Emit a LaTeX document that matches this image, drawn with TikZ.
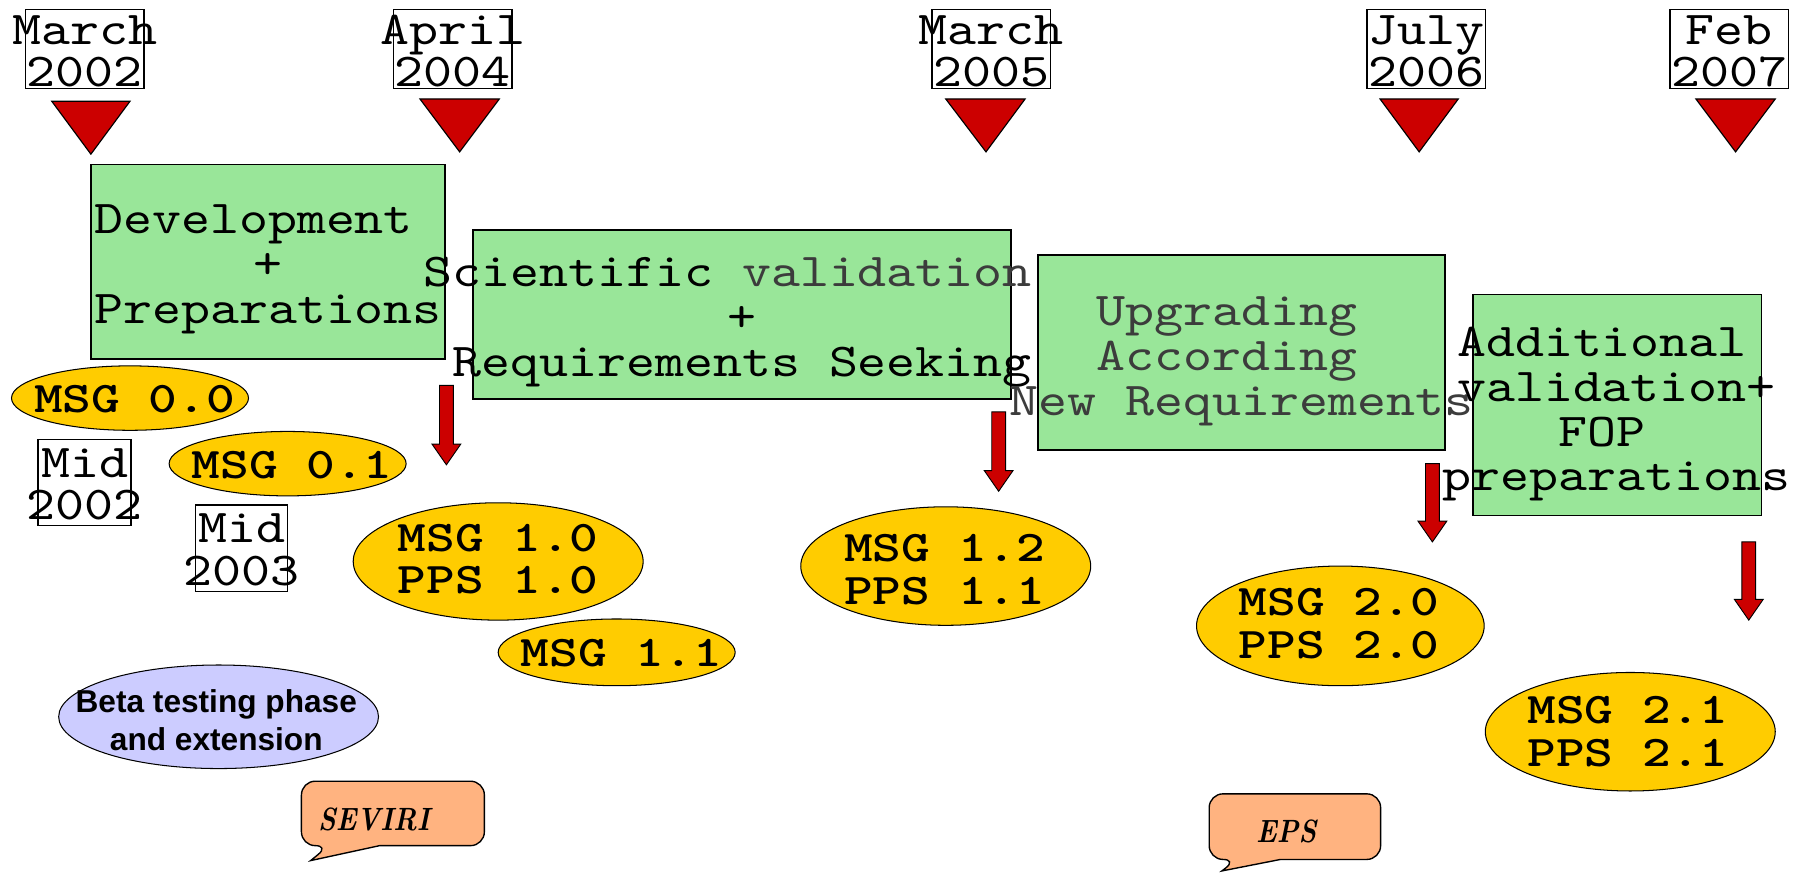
\documentclass[tikz,border=0pt]{standalone}
\usepackage{fontspec}
\usetikzlibrary{shapes.geometric}

% typefaces
\newfontfamily\datefont{lmmono10-regular.otf}[FakeStretch=1.17]
\newfontfamily\relfont{lmmonolt10-bold.otf}[FakeStretch=1.25]
\newfontfamily\betafont{Liberation Sans}
\newfontfamily\callfont{lmroman10-bolditalic.otf}[FakeStretch=0.85]

% palette
\definecolor{boxgreen}{HTML}{99E699}
\definecolor{msgorange}{HTML}{FFCC00}
\definecolor{markred}{HTML}{CC0000}
\definecolor{betablue}{HTML}{CCCCFF}
\definecolor{calloutfill}{HTML}{FFB380}
\definecolor{softgray}{HTML}{3C3C3C}

% downward block arrow: x, top, head start, tip
\newcommand\relarrow[4]{%
  \draw[relarrowstyle] (#1-6,#2) -- (#1+6,#2) -- (#1+6,#3) -- (#1+12.5,#3)
    -- (#1,#4) -- (#1-12.5,#3) -- (#1-6,#3) -- cycle;}

\tikzset{
  datebox/.style={draw, line width=1.2, minimum width=103, minimum height=69, inner sep=0},
  midbox/.style={draw, line width=1.2, minimum width=81, minimum height=75, inner sep=0},
  datetext/.style={font=\datefont\fontsize{41}{37}\selectfont, align=center, inner sep=0},
  marker/.style={draw, line width=1, fill=markred, line join=miter},
  stage/.style={draw, line width=1.6, fill=boxgreen, inner sep=0},
  stagetext/.style={font=\datefont\fontsize{41}{39}\selectfont, align=center, inner sep=0},
  release/.style={ellipse, draw, line width=0.9, fill=msgorange, inner sep=0},
  releasetext/.style={font=\relfont\fontsize{38}{37}\selectfont, align=center, inner sep=0},
  relarrowstyle/.style={draw, line width=0.8, fill=markred},
  betaell/.style={ellipse, draw, line width=0.9, fill=betablue, inner sep=0,
    minimum width=278, minimum height=90},
  betatext/.style={font=\betafont\bfseries\fontsize{27.5}{33}\selectfont, align=center, inner sep=0},
  calloutbox/.style={draw, line width=1.2, fill=calloutfill},
  callouttext/.style={font=\callfont\fontsize{28}{30}\selectfont, inner sep=0},
}

\begin{document}
\begin{tikzpicture}[x=1pt, y=-1pt]
\useasboundingbox (0,0) rectangle (1568,758);

% ---- milestone dates with markers ----
\node[datebox] (d1box) at (73.5,42.5) {};
\node[datetext] (d1) at (73.5,44.5) {March\\2002};
\draw[marker] (45,88) -- (113,88) -- (79,134) -- cycle;

\node[datebox] (d2box) at (393.5,42.5) {};
\node[datetext] (d2) at (393.5,44.5) {April\\2004};
\draw[marker] (365,86) -- (434,86) -- (399.5,132) -- cycle;

\node[datebox] (d3box) at (861.5,42.5) {};
\node[datetext] (d3) at (861.5,44.5) {March\\2005};
\draw[marker] (822,86) -- (891,86) -- (857,132) -- cycle;

\node[datebox] (d4box) at (1239.5,42.5) {};
\node[datetext] (d4) at (1239.5,44.5) {July\\2006};
\draw[marker] (1199.5,86) -- (1267.5,86) -- (1233.5,132) -- cycle;

\node[datebox] (d5box) at (1503,42.5) {};
\node[datetext] (d5) at (1503,44.5) {Feb\\2007};
\draw[marker] (1474,86) -- (1543,86) -- (1508.5,132) -- cycle;

% ---- project phases ----
\node[stage, minimum width=308, minimum height=169] (devbox) at (233,227.5) {};
\node[stage, minimum width=468, minimum height=147] (scibox) at (645,273.5) {};
\node[stage, minimum width=354, minimum height=169] (upgbox) at (1079,306.5) {};
\node[stage, minimum width=251, minimum height=192] (addbox) at (1405.5,352) {};

\node[stagetext] (dev) at (233,234) {Development\hphantom{x}\\+\\Preparations};
\node[stagetext] (sci) at (645,280) {Scientific \textcolor{softgray}{validation}\hphantom{x}\\+\\Requirements Seeking};
\node[stagetext, text=softgray] (upg) at (1079,314) {Upgrading\hphantom{x}\\According\hphantom{x}\\New Requirements};
\node[stagetext] (add) at (1405,360) {Additional\hphantom{x}\\validation+\\FOP\hphantom{x}\\preparations};

% ---- release arrows ----
\relarrow{388}{335}{386}{404}
\relarrow{868}{358}{409}{427}
\relarrow{1245}{403}{453}{471}
\relarrow{1520}{471}{521}{539}

% ---- early releases ----
\node[release, minimum width=206, minimum height=56] (e00) at (113,346) {};
\node[releasetext] (t00) at (117,347) {MSG 0.0};
\node[midbox] (m1box) at (73.5,419.5) {};
\node[datetext] (m1) at (73.5,421) {Mid\\2002};

\node[release, minimum width=206, minimum height=56] (e01) at (250,403) {};
\node[releasetext] (t01) at (254,404) {MSG 0.1};
\node[midbox, minimum width=80] (m2box) at (210,476.5) {};
\node[datetext] (m2) at (210,478) {Mid\\2003};

% ---- main releases ----
\node[release, minimum width=252, minimum height=102] (e10) at (433,488) {};
\node[releasetext] (t10) at (433,486) {MSG 1.0\\PPS 1.0};
\node[release, minimum width=206, minimum height=58] (e11) at (536,567) {};
\node[releasetext] (t11) at (540,568) {MSG 1.1};
\node[release, minimum width=252, minimum height=103] (e12) at (822,492) {};
\node[releasetext] (t12) at (821,495) {MSG 1.2\\PPS 1.1};
\node[release, minimum width=250, minimum height=104] (e20) at (1165,544) {};
\node[releasetext] (t20) at (1164,542) {MSG 2.0\\PPS 2.0};
\node[release, minimum width=252, minimum height=103] (e21) at (1417,636) {};
\node[releasetext] (t21) at (1415,636) {MSG 2.1\\PPS 2.1};

% ---- beta phase ----
\node[betaell] (beta) at (190,623) {};
\node[betatext] (betat) at (188,626) {Beta testing phase\\and extension};

% ---- instrument callouts ----
\draw[calloutbox] (286,735) -- (270,748) -- (330,735)
  [rounded corners=12] -- (421,735) -- (421,679) -- (262,679) -- (262,735) -- cycle;
\node[callouttext] (seviri) at (325,712) {SEVIRI};

\draw[calloutbox] (1075,747) -- (1062,757) -- (1113,747)
  [rounded corners=12] -- (1200,747) -- (1200,690) -- (1051,690) -- (1051,747) -- cycle;
\node[callouttext] (eps) at (1118,723) {EPS};
\end{tikzpicture}
\end{document}
